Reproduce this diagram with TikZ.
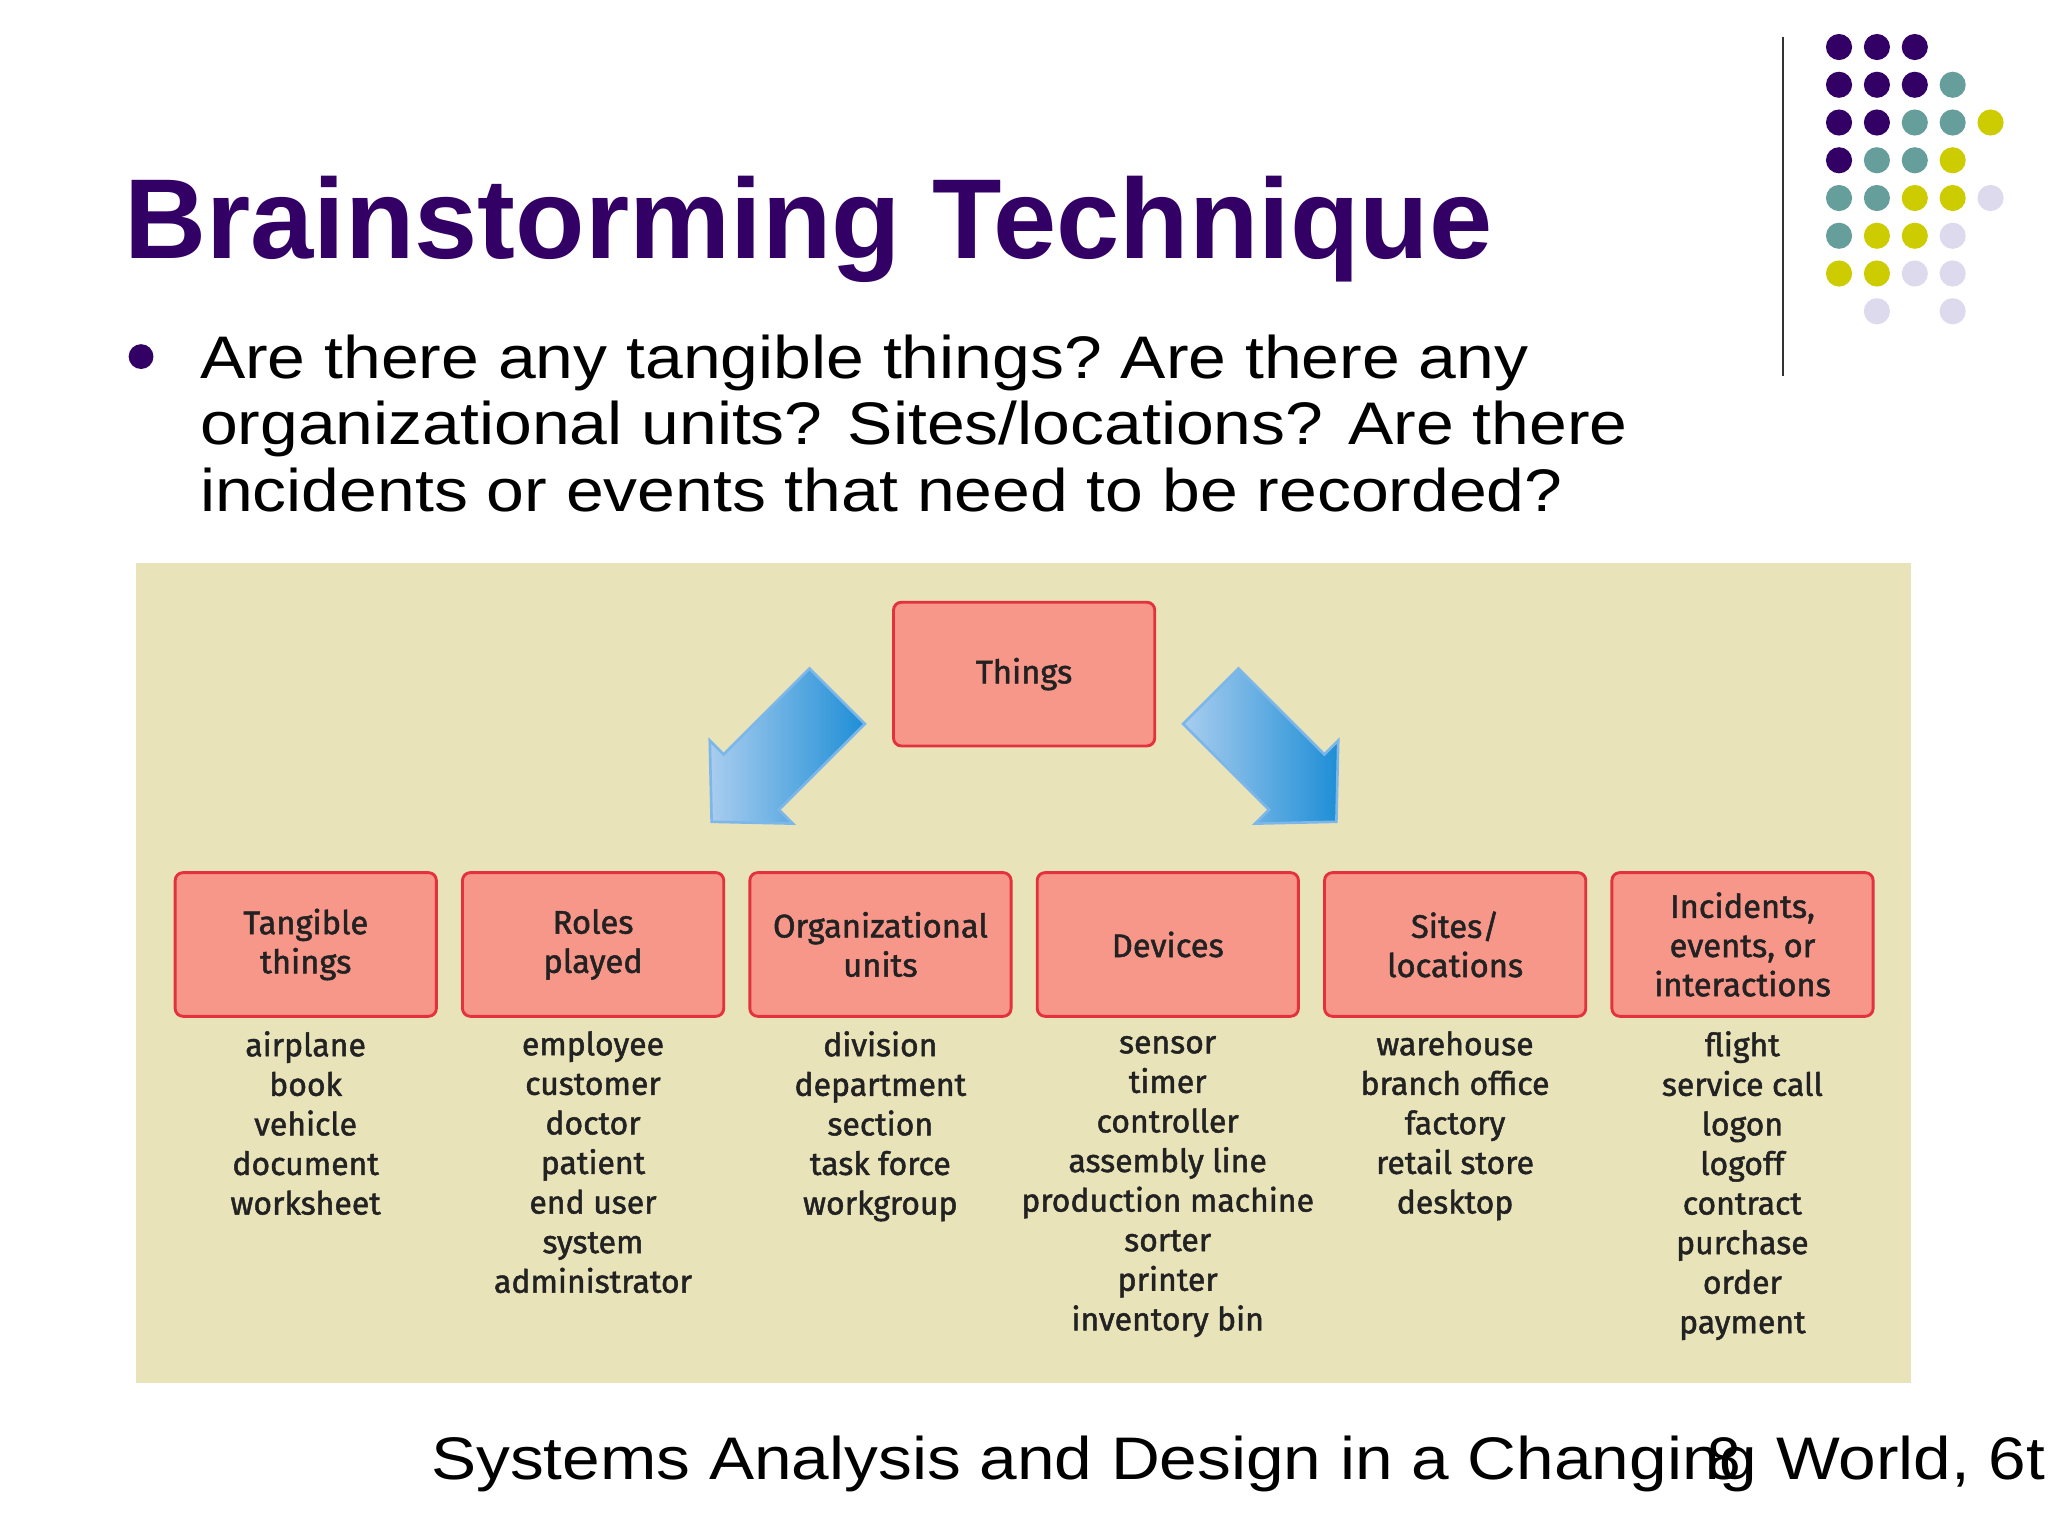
\documentclass[tikz,border=0pt]{standalone}
\usepackage{fontspec}
\setmainfont{Liberation Sans}
\newfontfamily\boxf[FakeBold=1.5]{Fira Sans}
\definecolor{purp}{HTML}{330066}
\definecolor{teal}{HTML}{669E9C}
\definecolor{yel}{HTML}{CCCC00}
\definecolor{lav}{HTML}{DCDAEC}
\definecolor{panel}{HTML}{E8E3B9}
\definecolor{boxfill}{HTML}{F7978A}
\definecolor{boxline}{HTML}{E3313D}
\definecolor{txt}{HTML}{222222}
\definecolor{arlight}{HTML}{A9CDEF}
\definecolor{ardark}{HTML}{1E8ED6}
\definecolor{arline}{HTML}{7DB6E8}
\begin{document}
\begin{tikzpicture}[x=1pt,y=-1pt,
  catbox/.style={draw=boxline,line width=2.2pt,fill=boxfill,rounded corners=6pt,minimum width=200pt,minimum height=110pt,align=center,font=\boxf\fontsize{25}{30}\selectfont,text=txt,anchor=north west},
  listtxt/.style={align=center,font=\boxf\fontsize{24.5}{30.3}\selectfont,text=txt,anchor=north},
  dot/.style={circle,inner sep=0pt,minimum size=20pt}]
\clip (0,0) rectangle (1568,1176);
\useasboundingbox (0,0) rectangle (1568,1176);
\fill[white] (0,0) rectangle (1568,1176);
% decoration
\draw[line width=1.5pt,black!80] (1365,28) -- (1365,288);
\foreach \r/\lst in {0/{P,P,P},1/{P,P,P,T},2/{P,P,T,T,Y},3/{P,T,T,Y},4/{T,T,Y,Y,L},5/{T,Y,Y,L},6/{Y,Y,L,L},7/{N,L,N,L}}{
  \foreach \c [count=\i from 0] in \lst {
    \if\c N\else
    \def\col{purp}\if\c T\def\col{teal}\fi\if\c Y\def\col{yel}\fi\if\c L\def\col{lav}\fi
    \node[dot,fill=\col] (d\r\i) at (1408+29*\i,36+28.9*\r) {};
    \fi
  }
}
% title
\node[anchor=base west,inner sep=0pt,text=purp,font=\fontsize{87}{100}\selectfont\bfseries] (title) at (95,198) {Brainstorming Technique};
\node[circle,fill=purp,inner sep=0pt,minimum size=19pt] (bul) at (108,273) {};
\node[anchor=north west,inner sep=0pt,align=left,font=\fontsize{46}{51}\selectfont] (body) at (153,256) {\frenchspacing\scalebox{1.13}[1]{Are there any tangible things? Are there any}\\\scalebox{1.13}[1]{organizational units? Sites/locations? Are there}\\\scalebox{1.13}[1]{incidents or events that need to be recorded?}};
% panel
\fill[panel] (104,431) rectangle (1463,1059);
\node[catbox] (things) at (683,460) {Things};
\foreach \n/\x/\lab/\items in {
 tang/133/{Tangible\\things}/{airplane\\book\\vehicle\\document\\worksheet},
 roles/353/{Roles\\played}/{employee\\customer\\doctor\\patient\\end user\\system\\administrator},
 org/573/{Organizational\\units}/{division\\department\\section\\task force\\workgroup},
 dev/793/{Devices}/{sensor\\timer\\controller\\assembly line\\production machine\\sorter\\printer\\inventory bin},
 site/1013/{Sites/\\locations}/{warehouse\\branch office\\factory\\retail store\\desktop},
 inc/1233/{Incidents,\\events, or\\interactions}/{flight\\service call\\logon\\logoff\\contract\\purchase\\order\\payment}}{
  \node[catbox] (\n) at (\x,667) {\lab};
  \node[listtxt] (\n l) at (\x+101,786) {\vphantom{Agy}\items};
}
% arrows
\foreach \nm/\cx/\ang/\sh in {la/641/225/-45, ra/927/-45/45}{
 \begin{scope}[shift={(\cx,533)},rotate=\ang]
  \shade[shading angle=\sh,left color=arlight,right color=ardark,draw=arline,line width=2pt]
   (0,-30) -- (93,-30) -- (93,-45) -- (136,0) -- (93,45) -- (93,30) -- (0,30) -- cycle;
 \end{scope}
}
% footer
\node[anchor=base west,inner sep=0pt,font=\fontsize{46}{50}\selectfont] (foot) at (330,1133) {\scalebox{1.125}[1]{Systems Analysis and Design in a Changing World, 6th Edition}};
\node[anchor=base west,inner sep=0pt,font=\fontsize{46}{50}\selectfont] (pg) at (1307,1133) {8};
\end{tikzpicture}
\end{document}
